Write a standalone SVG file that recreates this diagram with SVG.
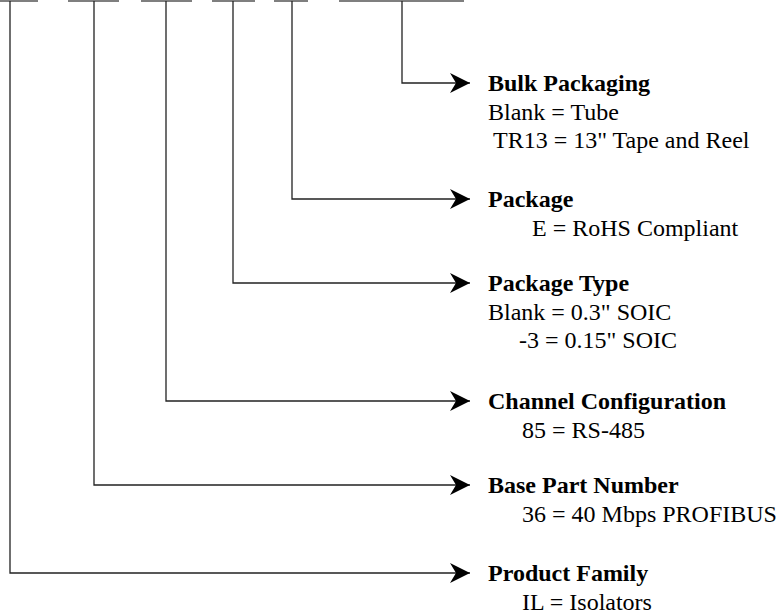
<svg xmlns="http://www.w3.org/2000/svg" width="783" height="615" viewBox="0 0 783 615">
<style>
.bar{stroke:#555;stroke-width:1.6;fill:none}
.wire{stroke:#222;stroke-width:1.3;fill:none}
.h{font-family:"Liberation Serif","Times New Roman",serif;font-size:24px;font-weight:bold;fill:#000}
.t{font-family:"Liberation Serif","Times New Roman",serif;font-size:24px;fill:#000}
</style>
<defs>
<marker id="arr" markerUnits="userSpaceOnUse" markerWidth="22" markerHeight="22" refX="20" refY="10" orient="auto" viewBox="0 0 22 22">
<path d="M0,0 L20,10 L0,20 L6,10 Z" fill="#000"/>
</marker>
</defs>
<rect width="783" height="615" fill="#fff"/>
<g id="connectors">
<line class="bar" x1="0" y1="1" x2="38" y2="1"/>
<line class="bar" x1="68" y1="1" x2="119" y2="1"/>
<line class="bar" x1="141" y1="1" x2="192" y2="1"/>
<line class="bar" x1="212" y1="1" x2="255" y2="1"/>
<line class="bar" x1="274" y1="1" x2="308" y2="1"/>
<line class="bar" x1="339" y1="1" x2="464" y2="1"/>
<path class="wire" d="M402,1 V83 H470" marker-end="url(#arr)"/>
<path class="wire" d="M292,1 V199 H470" marker-end="url(#arr)"/>
<path class="wire" d="M233,1 V283 H470" marker-end="url(#arr)"/>
<path class="wire" d="M166,1 V401 H470" marker-end="url(#arr)"/>
<path class="wire" d="M94,1 V485 H470" marker-end="url(#arr)"/>
<path class="wire" d="M10,1 V573 H470" marker-end="url(#arr)"/>
</g>
<g id="bulk-packaging">
<text class="h" x="488" y="91">Bulk Packaging</text>
<text class="t" x="488" y="120">Blank = Tube</text>
<text class="t" x="493" y="148">TR13 = 13" Tape and Reel</text>
</g>
<g id="package">
<text class="h" x="488" y="207">Package</text>
<text class="t" x="532" y="236">E = RoHS Compliant</text>
</g>
<g id="package-type">
<text class="h" x="488" y="291">Package Type</text>
<text class="t" x="488" y="320">Blank = 0.3" SOIC</text>
<text class="t" x="519" y="348">-3 = 0.15" SOIC</text>
</g>
<g id="channel-configuration">
<text class="h" x="488" y="409">Channel Configuration</text>
<text class="t" x="522" y="438">85 = RS-485</text>
</g>
<g id="base-part-number">
<text class="h" x="488" y="493">Base Part Number</text>
<text class="t" x="522" y="522">36 = 40 Mbps PROFIBUS</text>
</g>
<g id="product-family">
<text class="h" x="488" y="581">Product Family</text>
<text class="t" x="522" y="610">IL = Isolators</text>
</g>
</svg>
